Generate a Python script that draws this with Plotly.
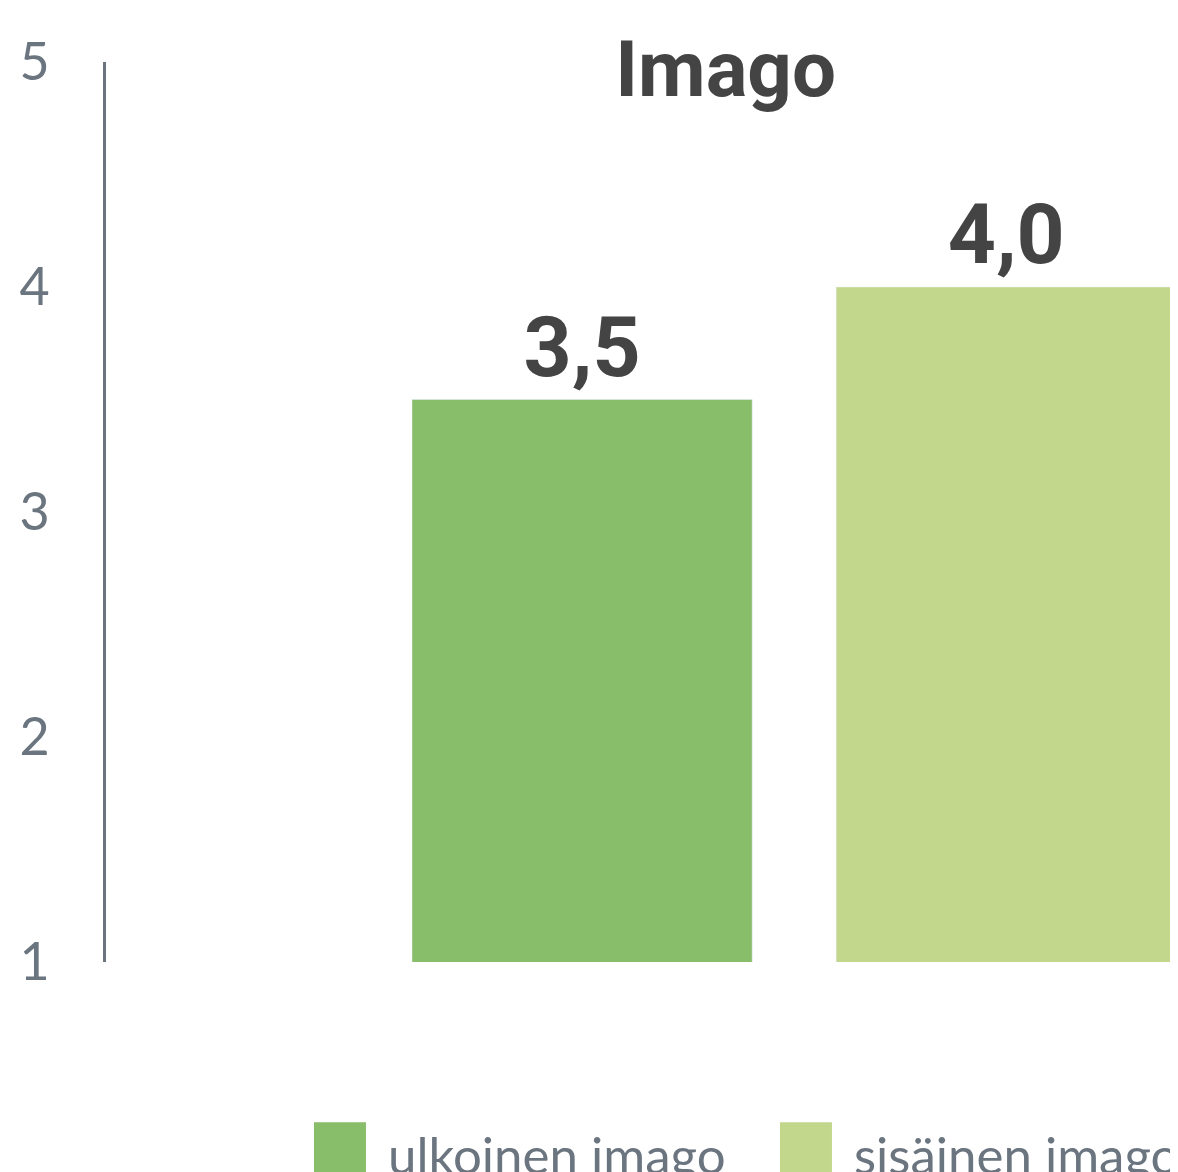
import plotly.graph_objects as go

categories = ["Imago"]
series_names = ["ulkoinen imago", "sisäinen imago"]
series_values = [[3.5], [4.0]]
series_colors = ["#88BD6A", "#C3D78C"]
y_ticks = [1, 2, 3, 4, 5]

fig = go.Figure()
for name, vals, col in zip(series_names, series_values, series_colors):
    fig.add_trace(go.Bar(
        x=categories, y=vals, name=name, marker_color=col,
        showlegend=False,
        texttemplate="%{y:.1f}", textposition="outside",
        textfont=dict(family="Roboto", size=84, color="#444444", weight="bold"),
        cliponaxis=False,
    ))

# manual legend (large swatches)
sw_x = [0.194, 0.6287]
for i, (name, col) in enumerate(zip(series_names, series_colors)):
    fig.add_shape(type="rect", xref="paper", yref="paper",
                  x0=sw_x[i], x1=sw_x[i] + 0.0485, y0=-0.178, y1=-0.236,
                  fillcolor=col, line=dict(width=0))
    fig.add_annotation(xref="paper", yref="paper", x=sw_x[i] + 0.0668, y=-0.214,
                       xanchor="left", yanchor="middle", text=name, showarrow=False,
                       font=dict(family="Lato", size=51, color="#6B7580"))

fig.update_layout(
    width=1170, height=1164,
    margin=dict(l=98, r=0, t=54, b=210),
    paper_bgcolor="white", plot_bgcolor="white",
    separators=",.",
    barmode="group", bargap=0.2, bargroupgap=0.198,
    title=dict(text="<b>Imago</b>", x=0.578, xref="paper", xanchor="center",
               y=1 - 61 / 1164, yanchor="middle",
               font=dict(family="Roboto", size=78, color="#444444")),
    showlegend=False,
)
fig.update_yaxes(range=[1, 5], tickvals=y_ticks, showgrid=False, zeroline=False,
                 showline=True, linecolor="#6C757F", linewidth=3,
                 ticks="", ticklabelstandoff=43,
                 tickfont=dict(family="Lato", size=52, color="#6B7580"))
fig.update_xaxes(range=[-0.649, 0.362], showticklabels=False, showgrid=False,
                 zeroline=False, showline=False)

fig.write_html("out.html")
